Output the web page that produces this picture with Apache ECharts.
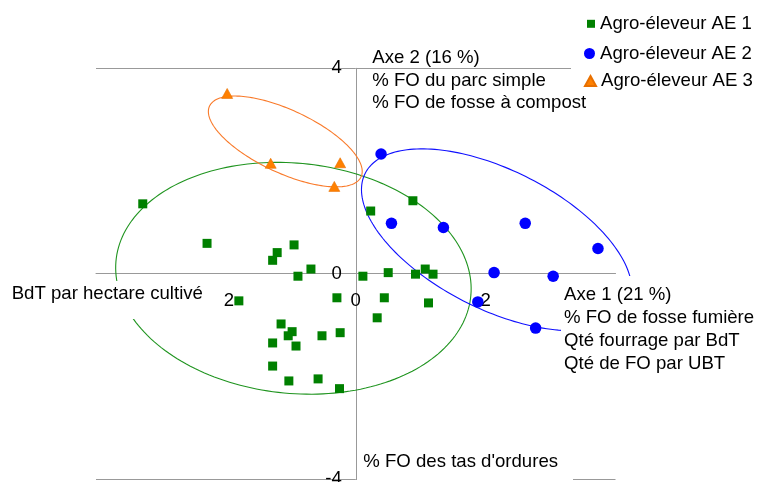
<!DOCTYPE html>
<html><head><meta charset="utf-8">
<script src="https://cdn.jsdelivr.net/npm/echarts@6/dist/echarts.min.js"></script>
<style>html,body{margin:0;padding:0;background:#fff}#c{width:758px;height:482px}</style>
</head><body><div id="c"></div>
<script>
// ---- data ----
const seriesNames = ['Agro-éleveur AE 1', 'Agro-éleveur AE 2', 'Agro-éleveur AE 3'];
const ae1 = [
  [-3.28, 1.36], [-2.29, 0.59], [-1.21, 0.41], [-1.28, 0.26], [-0.95, 0.56],
  [-0.69, 0.09], [-0.89, -0.05], [-1.80, -0.53], [-0.29, -0.47], [-1.15, -0.98],
  [-0.98, -1.13], [-1.04, -1.21], [-1.28, -1.35], [-0.92, -1.41], [-0.52, -1.21],
  [-0.24, -1.15], [-1.28, -1.80], [-1.03, -2.09], [-0.58, -2.05], [-0.25, -2.24],
  [0.23, 1.22], [0.88, 1.42], [0.11, -0.05], [0.50, 0.02], [0.92, -0.01],
  [1.07, 0.09], [1.19, -0.01], [0.44, -0.47], [1.12, -0.57], [0.33, -0.86]
];
const ae2 = [
  [0.39, 2.33], [0.55, 0.98], [1.35, 0.90], [2.61, 0.98], [3.73, 0.49],
  [2.13, 0.02], [3.04, -0.05], [1.88, -0.55], [2.77, -1.06]
];
const ae3 = [
  [-1.98, 3.51], [-1.31, 2.15], [-0.24, 2.16], [-0.33, 1.70]
];
// confidence ellipses (centre x, centre y, semi-axis a, semi-axis b, rotation deg), data units
const ellipseCenters = [[-0.96, -0.09], [2.17, 0.66], [-1.085, 2.575]];
const ellipseAxes = [[2.76, 2.23], [2.42, 1.27], [1.36, 0.58]];
const ellipseAngles = [-12.6, -36.8, -32.9];
const xTickValues = [-4, -2, 0, 2, 4];
const yTickValues = [-4, 0, 4];
const axis2Lines = ['Axe 2 (16 %)', '% FO du parc simple', '% FO de fosse à compost'];
const axis1Lines = ['Axe 1 (21 %)', '% FO de fosse fumière', 'Qté fourrage par BdT', 'Qté de FO par UBT'];
const leftLabel = 'BdT par hectare cultivé';
const bottomLabel = "% FO des tas d'ordures";

// ---- styles ----
const FONT = "'Liberation Sans', Arial, sans-serif";
const FS = 18.6;
const markerColors = ['#008000', '#0000ff', '#ff8000'];
const ellipseColors = ['#1f941f', '#1010ff', '#f97a2a'];
const gridColor = '#999999';
const G = {left: 96, right: 142.5, top: 68.3, bottom: 3};
const gridW = 758 - G.left - G.right;
const gridH = 482 - G.top - G.bottom;

const ellipseData = ellipseCenters.map((c, i) =>
  [c[0], c[1], ellipseAxes[i][0], ellipseAxes[i][1], ellipseAngles[i]]);

function renderEllipse(params, api) {
  const cx = api.value(0), cy = api.value(1), a = api.value(2), b = api.value(3);
  const th = api.value(4) * Math.PI / 180;
  const pts = [];
  const n = 200;
  for (let k = 0; k <= n; k++) {
    const t = 2 * Math.PI * k / n;
    pts.push(api.coord([
      cx + a * Math.cos(t) * Math.cos(th) - b * Math.sin(t) * Math.sin(th),
      cy + a * Math.cos(t) * Math.sin(th) + b * Math.sin(t) * Math.cos(th)
    ]));
  }
  return {
    type: 'polyline', silent: true,
    shape: {points: pts},
    style: {stroke: ellipseColors[params.dataIndex], lineWidth: 1.1, fill: null}
  };
}

const chart = echarts.init(document.getElementById('c'), null, {renderer: 'canvas'});

function legendFor(i, iw, ih, icon, centerY) {
  return {
    z: 80,
    data: [{name: seriesNames[i], icon: icon}],
    left: 600 - 5 - iw, top: centerY - 10.5, padding: 0, itemGap: 0,
    itemWidth: iw, itemHeight: ih, selectedMode: false,
    textStyle: {fontFamily: FONT, fontSize: FS, color: '#000', lineHeight: 21}
  };
}

function textBox(x, y, w, h, lines, tx, ty, lh, fill) {
  const els = [];
  if (fill) {
    els.push({type: 'rect', z: 100, shape: {x: x, y: y, width: w, height: h}, style: {fill: '#fff'}});
  }
  els.push({type: 'text', z: 101, x: tx, y: ty, style: {
    text: lines.join('\n'), fill: '#000', font: FS + 'px ' + FONT,
    lineHeight: lh, textAlign: 'left', textVerticalAlign: 'top'
  }});
  return els;
}

const option = {
  animation: false,
  backgroundColor: '#fff',
  grid: {left: G.left, right: G.right, top: G.top, bottom: G.bottom, containLabel: false, outerBoundsMode: 'none'},
  xAxis: {
    type: 'value', position: 'bottom', offset: -gridH / 2,
    min: xTickValues[0], max: xTickValues[xTickValues.length - 1], interval: 2,
    axisLine: {show: true, onZero: false, lineStyle: {color: gridColor, width: 1}},
    axisTick: {show: false},
    splitLine: {show: false},
    axisLabel: {margin: 18, color: '#000', fontFamily: FONT, fontSize: FS}
  },
  yAxis: {
    type: 'value', position: 'left', offset: -gridW / 2,
    min: yTickValues[0], max: yTickValues[yTickValues.length - 1], interval: 4,
    axisLine: {show: true, onZero: false, lineStyle: {color: gridColor, width: 1}},
    axisTick: {show: false},
    splitLine: {show: true, lineStyle: {color: gridColor, width: 1}},
    axisLabel: {margin: 14, color: '#000', fontFamily: FONT, fontSize: FS}
  },
  legend: [
    legendFor(0, 8, 8, 'rect', 23.8),
    legendFor(1, 11, 11, 'circle', 53.5),
    legendFor(2, 11, 10, 'triangle', 81)
  ],
  graphic: [
    {type: 'rect', z: 50, shape: {x: 571, y: 60, width: 187, height: 16}, style: {fill: '#fff'}},
    ...textBox(0, 0, 0, 0, axis2Lines, 372.3, 47.2, 22.2, false),
    ...textBox(561, 276, 197, 104, axis1Lines, 564, 283.6, 22.8, true),
    ...textBox(4, 281, 220, 38, [leftLabel], 11.7, 282.9, 22.8, true),
    ...textBox(357, 447, 216, 35, [bottomLabel], 363.3, 450.3, 22.8, true)
  ],
  series: [
    {type: 'custom', data: ellipseData, renderItem: renderEllipse, clip: false, silent: true, z: 1,
     encode: {x: 0, y: 1}},
    {name: seriesNames[0], type: 'scatter', data: ae1, symbol: 'rect', symbolSize: 9, z: 3,
     itemStyle: {color: markerColors[0], opacity: 1}},
    {name: seriesNames[1], type: 'scatter', data: ae2, symbol: 'circle', symbolSize: 11.5, z: 3,
     itemStyle: {color: markerColors[1], opacity: 1}},
    {name: seriesNames[2], type: 'scatter', data: ae3, symbol: 'triangle', symbolSize: [11, 10], z: 3,
     itemStyle: {color: markerColors[2], opacity: 1, borderColor: '#e87000', borderWidth: 0.6}}
  ]
};
chart.setOption(option);
</script></body></html>
